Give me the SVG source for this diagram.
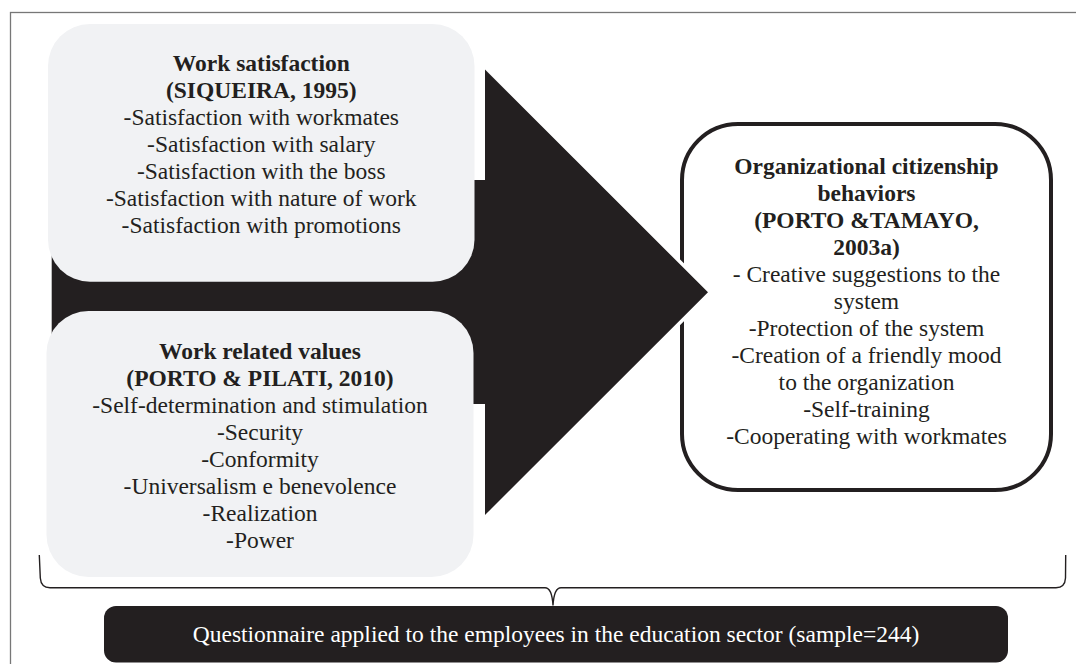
<svg xmlns="http://www.w3.org/2000/svg" width="1076" height="664" viewBox="0 0 1076 664">
  <style>
    text { font-family: "Liberation Serif", "Times New Roman", serif; font-size: 23.5px; fill: #231f20; text-anchor: middle; }
    .b { font-weight: bold; }
    .soft { fill: #f1f2f4; }
    .light { fill: #ffffff; }
    .frame { fill: none; stroke: #777777; stroke-width: 1.3; }
    .brace { fill: none; stroke: #231f20; stroke-width: 1.4; }
  </style>

  <rect width="1076" height="664" fill="#ffffff"/>
  <!-- outer frame (runs off the right and bottom edges) -->
  <rect class="frame" x="10.5" y="12.5" width="1100" height="700"/>

  <!-- outcome box -->
  <g id="node-ocb">
    <rect x="682" y="124" width="369" height="366" rx="56" ry="56" fill="#ffffff" stroke="#231f20" stroke-width="4"/>
    <text x="866.5" y="174" class="b">Organizational citizenship</text>
    <text x="866.5" y="201" class="b">behaviors</text>
    <text x="866.5" y="228" class="b">(PORTO &amp;TAMAYO,</text>
    <text x="866.5" y="255" class="b">2003a)</text>
    <text x="866.5" y="282">- Creative suggestions to the</text>
    <text x="866.5" y="309">system</text>
    <text x="866.5" y="336">-Protection of the system</text>
    <text x="866.5" y="363">-Creation of a friendly mood</text>
    <text x="866.5" y="390">to the organization</text>
    <text x="866.5" y="417">-Self-training</text>
    <text x="866.5" y="444">-Cooperating with workmates</text>
  </g>

  <!-- block arrow from the two antecedents to the outcome -->
  <g id="connectors">
    <polygon points="51.7,180 485,180 485,69.5 708,292.3 485,515 485,404 51.7,404"
             fill="#231f20" stroke="#ffffff" stroke-width="7" stroke-linejoin="miter" paint-order="stroke"/>
    <!-- brace grouping everything above the questionnaire -->
    <path class="brace" d="M39.3 555 L40.3 578 Q41 587.7 50 587.7 L545 587.7 Q552 587.7 553 605.5 Q554 587.7 561 587.7 L1056 587.7 Q1065 587.7 1065.5 578 L1065.7 555"/>
  </g>

  <g id="node-satisfaction">
    <rect class="soft" x="48" y="24" width="426.5" height="257.7" rx="42" ry="42"/>
    <text x="261.3" y="71.3" class="b">Work satisfaction</text>
    <text x="261.3" y="98.3" class="b">(SIQUEIRA, 1995)</text>
    <text x="261.3" y="125.3">-Satisfaction with workmates</text>
    <text x="261.3" y="152.3">-Satisfaction with salary</text>
    <text x="261.3" y="179.3">-Satisfaction with the boss</text>
    <text x="261.3" y="206.3">-Satisfaction with nature of work</text>
    <text x="261.3" y="233.3">-Satisfaction with promotions</text>
  </g>

  <g id="node-values">
    <rect class="soft" x="46.5" y="311" width="427" height="266" rx="42" ry="42"/>
    <text x="260" y="358.5" class="b">Work related values</text>
    <text x="260" y="385.5" class="b">(PORTO &amp; PILATI, 2010)</text>
    <text x="260" y="412.5">-Self-determination and stimulation</text>
    <text x="260" y="439.5">-Security</text>
    <text x="260" y="466.5">-Conformity</text>
    <text x="260" y="493.5">-Universalism e benevolence</text>
    <text x="260" y="520.5">-Realization</text>
    <text x="260" y="547.5">-Power</text>
  </g>

  <g id="node-questionnaire">
    <rect x="104" y="606" width="904" height="56.5" rx="12" ry="12" fill="#231f20"/>
    <text x="556" y="642" style="fill:#ffffff">Questionnaire applied to the employees in the education sector (sample=244)</text>
  </g>
</svg>
